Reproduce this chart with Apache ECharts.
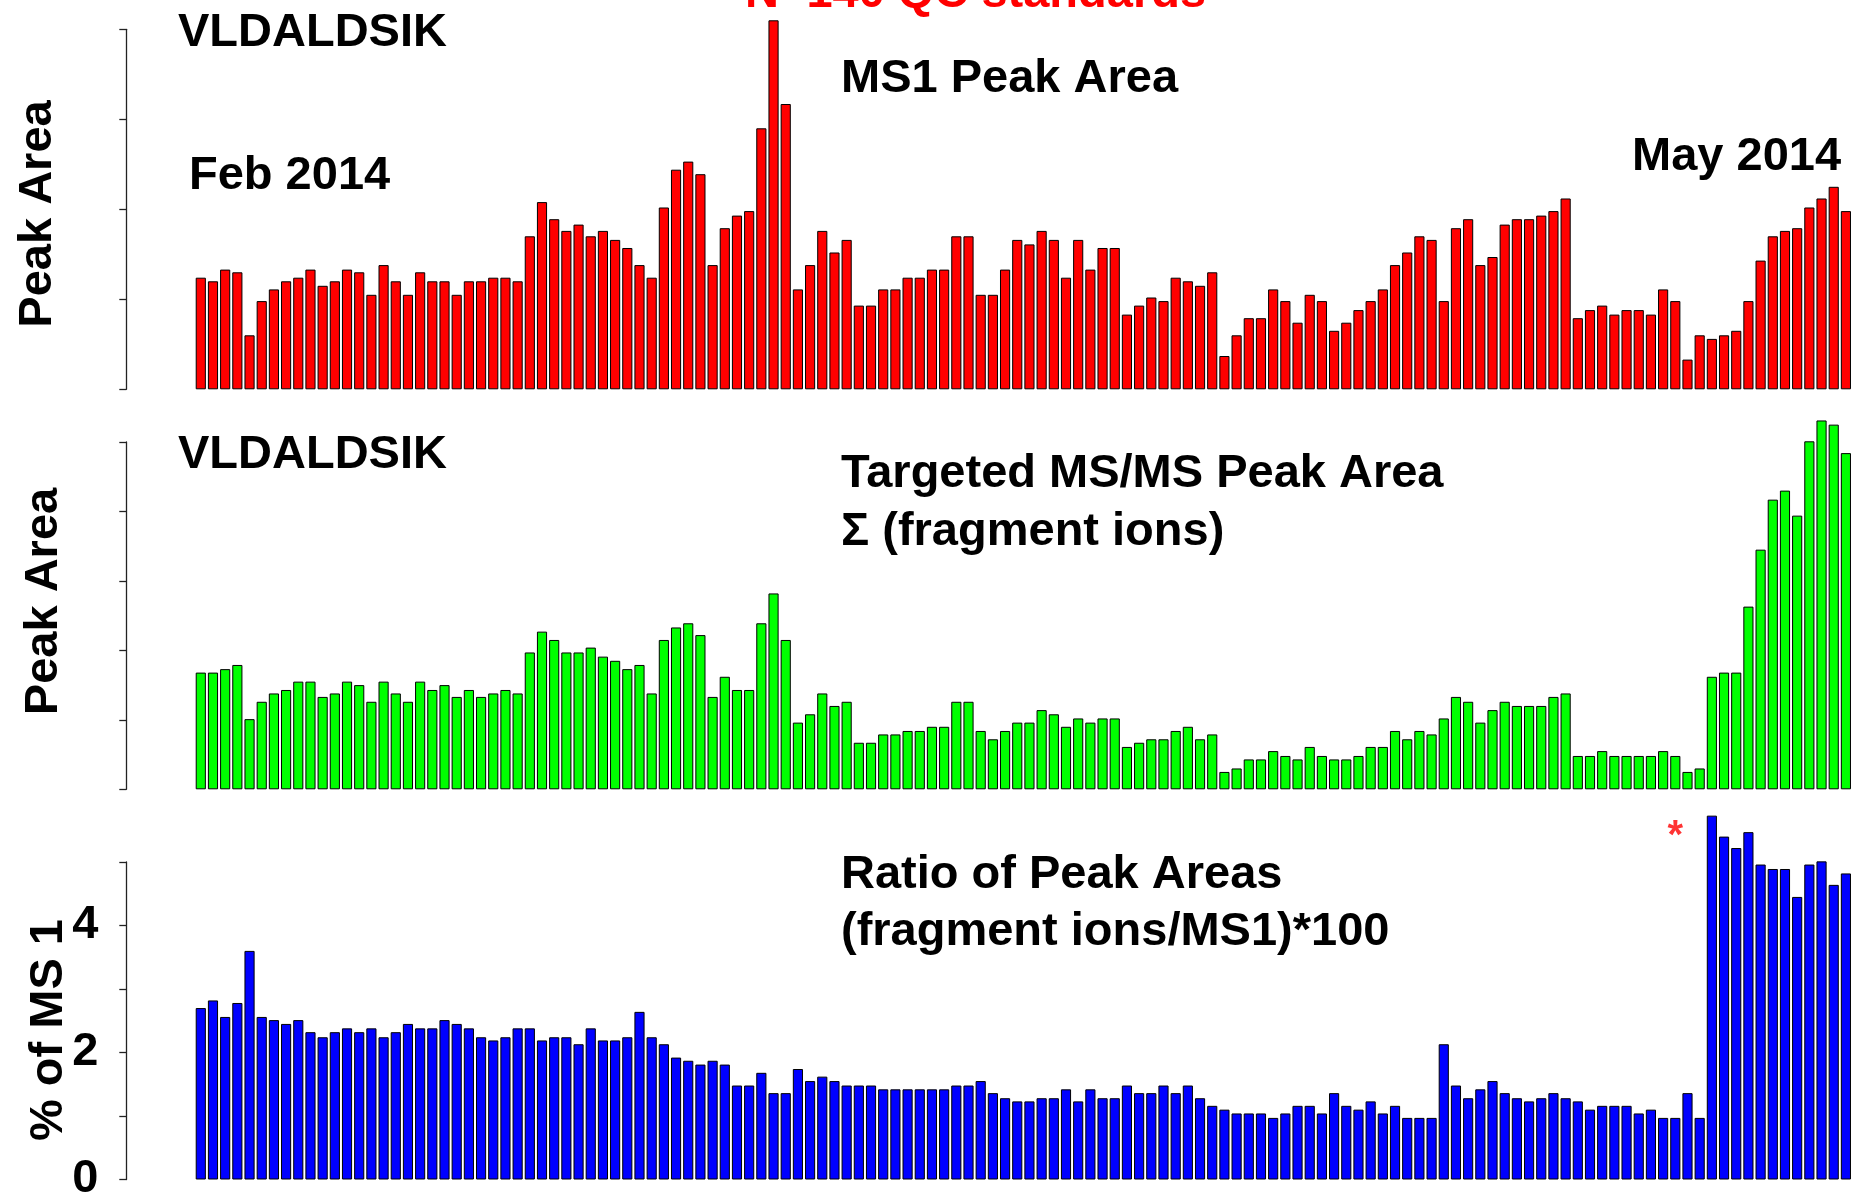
<!DOCTYPE html>
<html>
<head>
<meta charset="utf-8">
<title>VLDALDSIK QC standards</title>
<script src="https://cdn.jsdelivr.net/npm/echarts@6/dist/echarts.min.js"></script>
<style>
  html, body { margin: 0; padding: 0; background: #fff; }
  #chart { width: 1852px; height: 1203px; }
</style>
</head>
<body>
<div id="chart"></div>
<script>
// QC runs in acquisition order (Feb 2014 -> May 2014)
const runs = Array.from({ length: 136 }, (_, i) => String(i + 1));

// MS1 peak area, in axis tick units
const ms1Area = [
  1.24, 1.20, 1.33, 1.30, 0.60, 0.98, 1.11, 1.20, 1.24, 1.33,
  1.15, 1.20, 1.33, 1.30, 1.05, 1.38, 1.20, 1.05, 1.30, 1.20,
  1.20, 1.05, 1.20, 1.20, 1.24, 1.24, 1.20, 1.70, 2.08, 1.89,
  1.76, 1.83, 1.70, 1.76, 1.66, 1.57, 1.38, 1.24, 2.02, 2.44,
  2.53, 2.39, 1.38, 1.79, 1.93, 1.98, 2.90, 4.10, 3.17, 1.11,
  1.38, 1.76, 1.52, 1.66, 0.93, 0.93, 1.11, 1.11, 1.24, 1.24,
  1.33, 1.33, 1.70, 1.70, 1.05, 1.05, 1.33, 1.66, 1.61, 1.76,
  1.66, 1.24, 1.66, 1.33, 1.57, 1.57, 0.83, 0.93, 1.02, 0.98,
  1.24, 1.20, 1.15, 1.30, 0.37, 0.60, 0.79, 0.79, 1.11, 0.98,
  0.74, 1.05, 0.98, 0.65, 0.74, 0.88, 0.98, 1.11, 1.38, 1.52,
  1.70, 1.66, 0.98, 1.79, 1.89, 1.38, 1.47, 1.83, 1.89, 1.89,
  1.93, 1.98, 2.12, 0.79, 0.88, 0.93, 0.83, 0.88, 0.88, 0.83,
  1.11, 0.98, 0.33, 0.60, 0.56, 0.60, 0.65, 0.98, 1.43, 1.70,
  1.76, 1.79, 2.02, 2.12, 2.25, 1.98
];

// Targeted MS/MS peak area, sum of fragment ions, in axis tick units
const fragmentArea = [
  1.68, 1.68, 1.73, 1.79, 1.01, 1.26, 1.38, 1.43, 1.55, 1.55,
  1.33, 1.38, 1.55, 1.50, 1.26, 1.55, 1.38, 1.26, 1.55, 1.43,
  1.50, 1.33, 1.43, 1.33, 1.38, 1.43, 1.38, 1.97, 2.27, 2.15,
  1.97, 1.97, 2.04, 1.91, 1.85, 1.73, 1.79, 1.38, 2.15, 2.33,
  2.39, 2.22, 1.33, 1.62, 1.43, 1.43, 2.39, 2.82, 2.15, 0.96,
  1.08, 1.38, 1.20, 1.26, 0.67, 0.67, 0.79, 0.79, 0.84, 0.84,
  0.90, 0.90, 1.26, 1.26, 0.84, 0.72, 0.84, 0.96, 0.96, 1.14,
  1.08, 0.90, 1.02, 0.96, 1.02, 1.02, 0.61, 0.67, 0.72, 0.72,
  0.84, 0.90, 0.72, 0.79, 0.25, 0.30, 0.43, 0.43, 0.55, 0.48,
  0.43, 0.61, 0.48, 0.43, 0.43, 0.48, 0.61, 0.61, 0.84, 0.72,
  0.84, 0.79, 1.02, 1.33, 1.26, 0.96, 1.14, 1.26, 1.20, 1.20,
  1.20, 1.33, 1.38, 0.48, 0.48, 0.55, 0.48, 0.48, 0.48, 0.48,
  0.55, 0.48, 0.25, 0.30, 1.62, 1.68, 1.68, 2.63, 3.45, 4.17,
  4.30, 3.94, 5.01, 5.31, 5.25, 4.84
];

// Ratio (fragment ions / MS1) * 100, percent of MS1
const ratioPct = [
  2.70, 2.82, 2.56, 2.78, 3.60, 2.56, 2.51, 2.45, 2.51, 2.32,
  2.24, 2.32, 2.38, 2.32, 2.38, 2.24, 2.32, 2.45, 2.38, 2.38,
  2.51, 2.45, 2.38, 2.24, 2.19, 2.24, 2.38, 2.38, 2.19, 2.24,
  2.24, 2.13, 2.38, 2.19, 2.19, 2.24, 2.64, 2.24, 2.13, 1.92,
  1.87, 1.81, 1.87, 1.81, 1.48, 1.48, 1.68, 1.36, 1.36, 1.74,
  1.55, 1.62, 1.55, 1.48, 1.48, 1.48, 1.42, 1.42, 1.42, 1.42,
  1.42, 1.42, 1.48, 1.48, 1.55, 1.36, 1.28, 1.23, 1.23, 1.28,
  1.28, 1.42, 1.23, 1.42, 1.28, 1.28, 1.48, 1.36, 1.36, 1.48,
  1.36, 1.48, 1.28, 1.16, 1.10, 1.04, 1.04, 1.04, 0.97, 1.04,
  1.16, 1.16, 1.04, 1.36, 1.16, 1.10, 1.23, 1.04, 1.16, 0.97,
  0.97, 0.97, 2.13, 1.48, 1.28, 1.42, 1.55, 1.36, 1.28, 1.23,
  1.28, 1.36, 1.28, 1.23, 1.10, 1.16, 1.16, 1.16, 1.04, 1.10,
  0.97, 0.97, 1.36, 0.97, 5.73, 5.40, 5.22, 5.47, 4.96, 4.89,
  4.89, 4.45, 4.96, 5.01, 4.64, 4.82
];

// Tick labels on the ratio axis (only even values are labelled)
const ratioTickLabels = ['0', '', '2', '', '4', ''];

// Run flagged with an asterisk in the ratio panel
const flaggedRun = '122';
const flagLevel = 5.39;

const FONT = '"Liberation Sans", Arial, Helvetica, sans-serif';
const bigFont = 'bold 47px ' + FONT;

const chart = echarts.init(document.getElementById('chart'), null, { renderer: 'canvas' });

const gridLeft = 194.7;
const grids = [
  { left: gridLeft, right: 0, top: 29.3, height: 360 },
  { left: gridLeft, right: 0, top: 442, height: 347.3 },
  { left: gridLeft, right: 0, top: 862, height: 322 }
];
const axisMax = [4, 5, 5];

const axisLineStyle = { color: '#222', width: 1.3 };

function yAxisFor(i) {
  return {
    type: 'value',
    gridIndex: i,
    min: 0,
    max: axisMax[i],
    interval: 1,
    offset: 68.4,
    axisLine: { show: true, lineStyle: axisLineStyle },
    axisTick: { show: true, length: 7, lineStyle: axisLineStyle },
    splitLine: { show: false },
    axisLabel: i === 2 ? {
      show: true,
      margin: 28,
      fontFamily: FONT,
      fontWeight: 'bold',
      fontSize: 47,
      color: '#000',
      formatter: (v) => ratioTickLabels[Math.round(v)] || ''
    } : { show: false }
  };
}

function barSeries(i, data, color) {
  return {
    type: 'bar',
    xAxisIndex: i,
    yAxisIndex: i,
    data: data,
    barCategoryGap: '16.7%',
    clip: false,
    silent: true,
    itemStyle: { color: color, borderColor: '#000', borderWidth: 1 }
  };
}

function label(text, x, y, opts) {
  return Object.assign({
    type: 'text',
    x: x,
    y: y,
    silent: true,
    style: Object.assign({
      text: text,
      font: bigFont,
      fill: '#000',
      textAlign: 'left',
      textVerticalAlign: 'middle',
      align: 'left',
      verticalAlign: 'middle'
    }, (opts && opts.style) || {})
  }, (opts && opts.el) || {});
}

function axisTitle(text, x, y) {
  return {
    type: 'text',
    x: x,
    y: y,
    rotation: Math.PI / 2,
    silent: true,
    style: {
      text: text,
      font: bigFont,
      fill: '#000',
      textAlign: 'center',
      textVerticalAlign: 'middle',
      align: 'center',
      verticalAlign: 'middle'
    }
  };
}

const option = {
  animation: false,
  backgroundColor: '#fff',
  grid: grids,
  xAxis: [0, 1, 2].map((i) => ({
    type: 'category',
    gridIndex: i,
    data: runs,
    boundaryGap: true,
    show: false
  })),
  yAxis: [0, 1, 2].map(yAxisFor),
  series: [
    barSeries(0, ms1Area, '#ff0000'),
    barSeries(1, fragmentArea, '#00ff00'),
    barSeries(2, ratioPct, '#0000ff'),
    // asterisk flag above the ratio bars
    {
      type: 'scatter',
      xAxisIndex: 2,
      yAxisIndex: 2,
      clip: false,
      silent: true,
      symbol: 'circle',
      symbolSize: 1,
      itemStyle: { color: 'rgba(0,0,0,0)' },
      label: {
        show: true,
        position: 'inside',
        formatter: '*',
        color: '#ff0000',
        fontFamily: FONT,
        fontWeight: 'bold',
        fontSize: 40
      },
      data: [[flaggedRun, flagLevel]]
    }
  ],
  graphic: [
    label('N=140 QC standards', 745, -6, { style: { fill: '#ff0000' } }),
    label('VLDALDSIK', 178, 33),
    label('MS1 Peak Area', 841, 79),
    label('Feb 2014', 189, 176.5),
    label('May 2014', 1632, 157),
    label('VLDALDSIK', 178, 455.5),
    label('Targeted MS/MS Peak Area', 841, 474),
    label('\u03A3 (fragment ions)', 841, 532),
    label('Ratio of Peak Areas', 841, 875),
    label('(fragment ions/MS1)*100', 841, 932),
    axisTitle('Peak Area', 38, 214),
    axisTitle('Peak Area', 44, 601.5),
    axisTitle('% of MS 1', 49, 1030)
  ]
};

chart.setOption(option);
</script>
</body>
</html>
